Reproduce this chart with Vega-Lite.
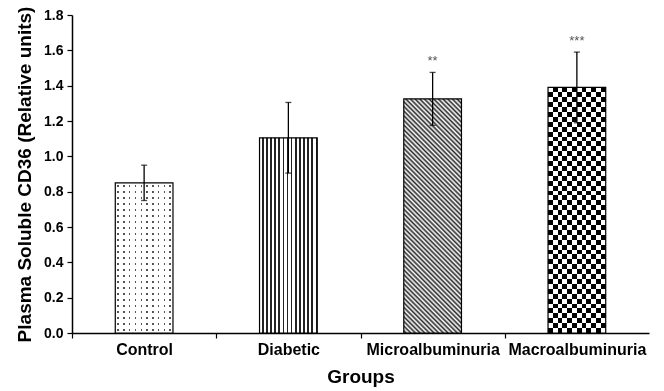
{
  "$schema": "https://vega.github.io/schema/vega-lite/v6.json",
  "autosize": "none",
  "padding": {"left": 72, "top": 15, "right": 15, "bottom": 58},
  "width": 577,
  "height": 318,
  "background": "white",
  "config": {
    "view": {"stroke": null},
    "font": "Liberation Sans",
    "axis": {
      "domainColor": "#000", "domainWidth": 1.5, "tickColor": "#000", "tickWidth": 1.2,
      "labelColor": "#000", "titleColor": "#000", "labelFont": "Liberation Sans", "titleFont": "Liberation Sans",
      "labelFontWeight": "bold", "titleFontWeight": "bold", "grid": false
    },
    "axisY": {"tickCount": 10, "labelFontSize": 14, "tickSize": 5, "labelPadding": 4, "titleFontSize": 19, "titlePadding": 9, "format": ".1f", "labelOverlap": false}
  },
  "data": {"values": [
    {"group": "Control", "mean": 0.85, "lo": 0.75, "hi": 0.95, "sig": ""},
    {"group": "Diabetic", "mean": 1.105, "lo": 0.905, "hi": 1.305, "sig": ""},
    {"group": "Microalbuminuria", "mean": 1.325, "lo": 1.175, "hi": 1.475, "sig": "**"},
    {"group": "Macroalbuminuria", "mean": 1.39, "lo": 1.19, "hi": 1.59, "sig": "***"}
  ]},
  "encoding": {
    "x": {"field": "group", "type": "nominal", "sort": null,
      "scale": {"paddingInner": 0.6, "paddingOuter": 0.3},
      "axis": {"title": "Groups", "labelAngle": 0, "tickOffset": -72.125, "labelOffset": 72.125, "tickSize": 5,
        "labelPadding": 3, "labelFontSize": 16, "titleFontSize": 19, "titlePadding": 10}}
  },
  "layer": [
    {
      "transform": [{"filter": "datum.group == 'Control'"}],
      "mark": {"type": "bar", "strokeWidth": 0, "fill": {"gradient": "linear", "x1": 0, "y1": 0, "x2": 0, "y2": 1, "stops": [
        {"offset": 0, "color": "#fff"},
        {"offset": 0.015, "color": "#fff"}, {"offset": 0.015, "color": "#555"}, {"offset": 0.025, "color": "#555"}, {"offset": 0.025, "color": "#fff"},
        {"offset": 0.055, "color": "#fff"}, {"offset": 0.055, "color": "#555"}, {"offset": 0.065, "color": "#555"}, {"offset": 0.065, "color": "#fff"},
        {"offset": 0.095, "color": "#fff"}, {"offset": 0.095, "color": "#555"}, {"offset": 0.105, "color": "#555"}, {"offset": 0.105, "color": "#fff"},
        {"offset": 0.135, "color": "#fff"}, {"offset": 0.135, "color": "#555"}, {"offset": 0.145, "color": "#555"}, {"offset": 0.145, "color": "#fff"},
        {"offset": 0.175, "color": "#fff"}, {"offset": 0.175, "color": "#555"}, {"offset": 0.185, "color": "#555"}, {"offset": 0.185, "color": "#fff"},
        {"offset": 0.215, "color": "#fff"}, {"offset": 0.215, "color": "#555"}, {"offset": 0.225, "color": "#555"}, {"offset": 0.225, "color": "#fff"},
        {"offset": 0.255, "color": "#fff"}, {"offset": 0.255, "color": "#555"}, {"offset": 0.265, "color": "#555"}, {"offset": 0.265, "color": "#fff"},
        {"offset": 0.295, "color": "#fff"}, {"offset": 0.295, "color": "#555"}, {"offset": 0.305, "color": "#555"}, {"offset": 0.305, "color": "#fff"},
        {"offset": 0.335, "color": "#fff"}, {"offset": 0.335, "color": "#555"}, {"offset": 0.345, "color": "#555"}, {"offset": 0.345, "color": "#fff"},
        {"offset": 0.375, "color": "#fff"}, {"offset": 0.375, "color": "#555"}, {"offset": 0.385, "color": "#555"}, {"offset": 0.385, "color": "#fff"},
        {"offset": 0.415, "color": "#fff"}, {"offset": 0.415, "color": "#555"}, {"offset": 0.425, "color": "#555"}, {"offset": 0.425, "color": "#fff"},
        {"offset": 0.455, "color": "#fff"}, {"offset": 0.455, "color": "#555"}, {"offset": 0.465, "color": "#555"}, {"offset": 0.465, "color": "#fff"},
        {"offset": 0.495, "color": "#fff"}, {"offset": 0.495, "color": "#555"}, {"offset": 0.505, "color": "#555"}, {"offset": 0.505, "color": "#fff"},
        {"offset": 0.535, "color": "#fff"}, {"offset": 0.535, "color": "#555"}, {"offset": 0.545, "color": "#555"}, {"offset": 0.545, "color": "#fff"},
        {"offset": 0.575, "color": "#fff"}, {"offset": 0.575, "color": "#555"}, {"offset": 0.585, "color": "#555"}, {"offset": 0.585, "color": "#fff"},
        {"offset": 0.615, "color": "#fff"}, {"offset": 0.615, "color": "#555"}, {"offset": 0.625, "color": "#555"}, {"offset": 0.625, "color": "#fff"},
        {"offset": 0.655, "color": "#fff"}, {"offset": 0.655, "color": "#555"}, {"offset": 0.665, "color": "#555"}, {"offset": 0.665, "color": "#fff"},
        {"offset": 0.695, "color": "#fff"}, {"offset": 0.695, "color": "#555"}, {"offset": 0.705, "color": "#555"}, {"offset": 0.705, "color": "#fff"},
        {"offset": 0.735, "color": "#fff"}, {"offset": 0.735, "color": "#555"}, {"offset": 0.745, "color": "#555"}, {"offset": 0.745, "color": "#fff"},
        {"offset": 0.775, "color": "#fff"}, {"offset": 0.775, "color": "#555"}, {"offset": 0.785, "color": "#555"}, {"offset": 0.785, "color": "#fff"},
        {"offset": 0.815, "color": "#fff"}, {"offset": 0.815, "color": "#555"}, {"offset": 0.825, "color": "#555"}, {"offset": 0.825, "color": "#fff"},
        {"offset": 0.855, "color": "#fff"}, {"offset": 0.855, "color": "#555"}, {"offset": 0.865, "color": "#555"}, {"offset": 0.865, "color": "#fff"},
        {"offset": 0.895, "color": "#fff"}, {"offset": 0.895, "color": "#555"}, {"offset": 0.905, "color": "#555"}, {"offset": 0.905, "color": "#fff"},
        {"offset": 0.935, "color": "#fff"}, {"offset": 0.935, "color": "#555"}, {"offset": 0.945, "color": "#555"}, {"offset": 0.945, "color": "#fff"},
        {"offset": 0.975, "color": "#fff"}, {"offset": 0.975, "color": "#555"}, {"offset": 0.985, "color": "#555"}, {"offset": 0.985, "color": "#fff"},
        {"offset": 1, "color": "#fff"}
      ]}},
      "encoding": {"y": {"field": "mean", "type": "quantitative", "title": "Plasma Soluble CD36 (Relative units)",
        "scale": {"domain": [0, 1.8], "nice": false},
        "axis": {"values": [0, 0.2, 0.4, 0.6, 0.8, 1.0, 1.2, 1.4, 1.6, 1.8], "format": ".1f", "labelOverlap": false}}}
    },
    {
      "transform": [{"filter": "datum.group == 'Control'"}],
      "mark": {"type": "bar", "strokeWidth": 0, "blend": "lighten", "fill": {"gradient": "linear", "x1": 0, "y1": 0, "x2": 1, "y2": 0, "stops": [
        {"offset": 0, "color": "#fff"},
        {"offset": 0.0375, "color": "#fff"}, {"offset": 0.0375, "color": "#555"}, {"offset": 0.0625, "color": "#555"}, {"offset": 0.0625, "color": "#fff"},
        {"offset": 0.1375, "color": "#fff"}, {"offset": 0.1375, "color": "#555"}, {"offset": 0.1625, "color": "#555"}, {"offset": 0.1625, "color": "#fff"},
        {"offset": 0.2375, "color": "#fff"}, {"offset": 0.2375, "color": "#555"}, {"offset": 0.2625, "color": "#555"}, {"offset": 0.2625, "color": "#fff"},
        {"offset": 0.3375, "color": "#fff"}, {"offset": 0.3375, "color": "#555"}, {"offset": 0.3625, "color": "#555"}, {"offset": 0.3625, "color": "#fff"},
        {"offset": 0.4375, "color": "#fff"}, {"offset": 0.4375, "color": "#555"}, {"offset": 0.4625, "color": "#555"}, {"offset": 0.4625, "color": "#fff"},
        {"offset": 0.5375, "color": "#fff"}, {"offset": 0.5375, "color": "#555"}, {"offset": 0.5625, "color": "#555"}, {"offset": 0.5625, "color": "#fff"},
        {"offset": 0.6375, "color": "#fff"}, {"offset": 0.6375, "color": "#555"}, {"offset": 0.6625, "color": "#555"}, {"offset": 0.6625, "color": "#fff"},
        {"offset": 0.7375, "color": "#fff"}, {"offset": 0.7375, "color": "#555"}, {"offset": 0.7625, "color": "#555"}, {"offset": 0.7625, "color": "#fff"},
        {"offset": 0.8375, "color": "#fff"}, {"offset": 0.8375, "color": "#555"}, {"offset": 0.8625, "color": "#555"}, {"offset": 0.8625, "color": "#fff"},
        {"offset": 0.9375, "color": "#fff"}, {"offset": 0.9375, "color": "#555"}, {"offset": 0.9625, "color": "#555"}, {"offset": 0.9625, "color": "#fff"},
        {"offset": 1, "color": "#fff"}
      ]}},
      "encoding": {"y": {"field": "mean", "type": "quantitative", "title": "Plasma Soluble CD36 (Relative units)",
        "axis": {"values": [0, 0.2, 0.4, 0.6, 0.8, 1.0, 1.2, 1.4, 1.6, 1.8], "format": ".1f", "labelOverlap": false}}}
    },
    {
      "transform": [{"filter": "datum.group == 'Diabetic'"}],
      "mark": {"type": "bar", "strokeWidth": 0, "fill": {"gradient": "linear", "x1": 0, "y1": 0, "x2": 1, "y2": 0, "stops": [
        {"offset": 0, "color": "#fff"}, {"offset": 0.0429, "color": "#fff"}, {"offset": 0.0429, "color": "#222"}, {"offset": 0.0714, "color": "#222"},
        {"offset": 0.0714, "color": "#fff"}, {"offset": 0.1143, "color": "#fff"}, {"offset": 0.1143, "color": "#222"}, {"offset": 0.1429, "color": "#222"},
        {"offset": 0.1429, "color": "#fff"}, {"offset": 0.1857, "color": "#fff"}, {"offset": 0.1857, "color": "#222"}, {"offset": 0.2143, "color": "#222"},
        {"offset": 0.2143, "color": "#fff"}, {"offset": 0.2571, "color": "#fff"}, {"offset": 0.2571, "color": "#222"}, {"offset": 0.2857, "color": "#222"},
        {"offset": 0.2857, "color": "#fff"}, {"offset": 0.3286, "color": "#fff"}, {"offset": 0.3286, "color": "#222"}, {"offset": 0.3571, "color": "#222"},
        {"offset": 0.3571, "color": "#fff"}, {"offset": 0.4, "color": "#fff"}, {"offset": 0.4, "color": "#222"}, {"offset": 0.4286, "color": "#222"},
        {"offset": 0.4286, "color": "#fff"}, {"offset": 0.4714, "color": "#fff"}, {"offset": 0.4714, "color": "#222"}, {"offset": 0.5, "color": "#222"},
        {"offset": 0.5, "color": "#fff"}, {"offset": 0.5429, "color": "#fff"}, {"offset": 0.5429, "color": "#222"}, {"offset": 0.5714, "color": "#222"},
        {"offset": 0.5714, "color": "#fff"}, {"offset": 0.6143, "color": "#fff"}, {"offset": 0.6143, "color": "#222"}, {"offset": 0.6429, "color": "#222"},
        {"offset": 0.6429, "color": "#fff"}, {"offset": 0.6857, "color": "#fff"}, {"offset": 0.6857, "color": "#222"}, {"offset": 0.7143, "color": "#222"},
        {"offset": 0.7143, "color": "#fff"}, {"offset": 0.7571, "color": "#fff"}, {"offset": 0.7571, "color": "#222"}, {"offset": 0.7857, "color": "#222"},
        {"offset": 0.7857, "color": "#fff"}, {"offset": 0.8286, "color": "#fff"}, {"offset": 0.8286, "color": "#222"}, {"offset": 0.8571, "color": "#222"},
        {"offset": 0.8571, "color": "#fff"}, {"offset": 0.9, "color": "#fff"}, {"offset": 0.9, "color": "#222"}, {"offset": 0.9286, "color": "#222"},
        {"offset": 0.9286, "color": "#fff"}, {"offset": 0.9714, "color": "#fff"}, {"offset": 0.9714, "color": "#222"}, {"offset": 1, "color": "#222"}
      ]}},
      "encoding": {"y": {"field": "mean", "type": "quantitative", "title": "Plasma Soluble CD36 (Relative units)",
        "axis": {"values": [0, 0.2, 0.4, 0.6, 0.8, 1.0, 1.2, 1.4, 1.6, 1.8], "format": ".1f", "labelOverlap": false}}}
    },
    {
      "transform": [{"filter": "datum.group == 'Microalbuminuria'"}],
      "mark": {"type": "bar", "strokeWidth": 0, "fill": {"gradient": "linear", "x1": 0, "y1": 1, "x2": 0.291, "y2": -0.176, "stops": [
        {"offset": 0, "color": "#fff"}, {"offset": 0.008, "color": "#2a2a2a"}, {"offset": 0.016, "color": "#fff"}, {"offset": 0.024, "color": "#2a2a2a"},
        {"offset": 0.032, "color": "#fff"}, {"offset": 0.04, "color": "#2a2a2a"}, {"offset": 0.048, "color": "#fff"}, {"offset": 0.056, "color": "#2a2a2a"},
        {"offset": 0.064, "color": "#fff"}, {"offset": 0.072, "color": "#2a2a2a"}, {"offset": 0.08, "color": "#fff"}, {"offset": 0.088, "color": "#2a2a2a"},
        {"offset": 0.096, "color": "#fff"}, {"offset": 0.104, "color": "#2a2a2a"}, {"offset": 0.112, "color": "#fff"}, {"offset": 0.12, "color": "#2a2a2a"},
        {"offset": 0.128, "color": "#fff"}, {"offset": 0.136, "color": "#2a2a2a"}, {"offset": 0.144, "color": "#fff"}, {"offset": 0.152, "color": "#2a2a2a"},
        {"offset": 0.16, "color": "#fff"}, {"offset": 0.168, "color": "#2a2a2a"}, {"offset": 0.176, "color": "#fff"}, {"offset": 0.184, "color": "#2a2a2a"},
        {"offset": 0.192, "color": "#fff"}, {"offset": 0.2, "color": "#2a2a2a"}, {"offset": 0.208, "color": "#fff"}, {"offset": 0.216, "color": "#2a2a2a"},
        {"offset": 0.224, "color": "#fff"}, {"offset": 0.232, "color": "#2a2a2a"}, {"offset": 0.24, "color": "#fff"}, {"offset": 0.248, "color": "#2a2a2a"},
        {"offset": 0.256, "color": "#fff"}, {"offset": 0.264, "color": "#2a2a2a"}, {"offset": 0.272, "color": "#fff"}, {"offset": 0.28, "color": "#2a2a2a"},
        {"offset": 0.288, "color": "#fff"}, {"offset": 0.296, "color": "#2a2a2a"}, {"offset": 0.304, "color": "#fff"}, {"offset": 0.312, "color": "#2a2a2a"},
        {"offset": 0.32, "color": "#fff"}, {"offset": 0.328, "color": "#2a2a2a"}, {"offset": 0.336, "color": "#fff"}, {"offset": 0.344, "color": "#2a2a2a"},
        {"offset": 0.352, "color": "#fff"}, {"offset": 0.36, "color": "#2a2a2a"}, {"offset": 0.368, "color": "#fff"}, {"offset": 0.376, "color": "#2a2a2a"},
        {"offset": 0.384, "color": "#fff"}, {"offset": 0.392, "color": "#2a2a2a"}, {"offset": 0.4, "color": "#fff"}, {"offset": 0.408, "color": "#2a2a2a"},
        {"offset": 0.416, "color": "#fff"}, {"offset": 0.424, "color": "#2a2a2a"}, {"offset": 0.432, "color": "#fff"}, {"offset": 0.44, "color": "#2a2a2a"},
        {"offset": 0.448, "color": "#fff"}, {"offset": 0.456, "color": "#2a2a2a"}, {"offset": 0.464, "color": "#fff"}, {"offset": 0.472, "color": "#2a2a2a"},
        {"offset": 0.48, "color": "#fff"}, {"offset": 0.488, "color": "#2a2a2a"}, {"offset": 0.496, "color": "#fff"}, {"offset": 0.504, "color": "#2a2a2a"},
        {"offset": 0.512, "color": "#fff"}, {"offset": 0.52, "color": "#2a2a2a"}, {"offset": 0.528, "color": "#fff"}, {"offset": 0.536, "color": "#2a2a2a"},
        {"offset": 0.544, "color": "#fff"}, {"offset": 0.552, "color": "#2a2a2a"}, {"offset": 0.56, "color": "#fff"}, {"offset": 0.568, "color": "#2a2a2a"},
        {"offset": 0.576, "color": "#fff"}, {"offset": 0.584, "color": "#2a2a2a"}, {"offset": 0.592, "color": "#fff"}, {"offset": 0.6, "color": "#2a2a2a"},
        {"offset": 0.608, "color": "#fff"}, {"offset": 0.616, "color": "#2a2a2a"}, {"offset": 0.624, "color": "#fff"}, {"offset": 0.632, "color": "#2a2a2a"},
        {"offset": 0.64, "color": "#fff"}, {"offset": 0.648, "color": "#2a2a2a"}, {"offset": 0.656, "color": "#fff"}, {"offset": 0.664, "color": "#2a2a2a"},
        {"offset": 0.672, "color": "#fff"}, {"offset": 0.68, "color": "#2a2a2a"}, {"offset": 0.688, "color": "#fff"}, {"offset": 0.696, "color": "#2a2a2a"},
        {"offset": 0.704, "color": "#fff"}, {"offset": 0.712, "color": "#2a2a2a"}, {"offset": 0.72, "color": "#fff"}, {"offset": 0.728, "color": "#2a2a2a"},
        {"offset": 0.736, "color": "#fff"}, {"offset": 0.744, "color": "#2a2a2a"}, {"offset": 0.752, "color": "#fff"}, {"offset": 0.76, "color": "#2a2a2a"},
        {"offset": 0.768, "color": "#fff"}, {"offset": 0.776, "color": "#2a2a2a"}, {"offset": 0.784, "color": "#fff"}, {"offset": 0.792, "color": "#2a2a2a"},
        {"offset": 0.8, "color": "#fff"}, {"offset": 0.808, "color": "#2a2a2a"}, {"offset": 0.816, "color": "#fff"}, {"offset": 0.824, "color": "#2a2a2a"},
        {"offset": 0.832, "color": "#fff"}, {"offset": 0.84, "color": "#2a2a2a"}, {"offset": 0.848, "color": "#fff"}, {"offset": 0.856, "color": "#2a2a2a"},
        {"offset": 0.864, "color": "#fff"}, {"offset": 0.872, "color": "#2a2a2a"}, {"offset": 0.88, "color": "#fff"}, {"offset": 0.888, "color": "#2a2a2a"},
        {"offset": 0.896, "color": "#fff"}, {"offset": 0.904, "color": "#2a2a2a"}, {"offset": 0.912, "color": "#fff"}, {"offset": 0.92, "color": "#2a2a2a"},
        {"offset": 0.928, "color": "#fff"}, {"offset": 0.936, "color": "#2a2a2a"}, {"offset": 0.944, "color": "#fff"}, {"offset": 0.952, "color": "#2a2a2a"},
        {"offset": 0.96, "color": "#fff"}, {"offset": 0.968, "color": "#2a2a2a"}, {"offset": 0.976, "color": "#fff"}, {"offset": 0.984, "color": "#2a2a2a"},
        {"offset": 0.992, "color": "#fff"}, {"offset": 1, "color": "#2a2a2a"}
      ]}},
      "encoding": {"y": {"field": "mean", "type": "quantitative", "title": "Plasma Soluble CD36 (Relative units)",
        "axis": {"values": [0, 0.2, 0.4, 0.6, 0.8, 1.0, 1.2, 1.4, 1.6, 1.8], "format": ".1f", "labelOverlap": false}}}
    },
    {
      "transform": [{"filter": "datum.group == 'Macroalbuminuria'"}],
      "mark": {"type": "bar", "strokeWidth": 0, "fill": {"gradient": "linear", "x1": 0, "y1": 0, "x2": 0, "y2": 1, "stops": [
        {"offset": 0, "color": "#000"}, {"offset": 0.02, "color": "#000"}, {"offset": 0.02, "color": "#fff"}, {"offset": 0.04, "color": "#fff"},
        {"offset": 0.04, "color": "#000"}, {"offset": 0.06, "color": "#000"}, {"offset": 0.06, "color": "#fff"}, {"offset": 0.08, "color": "#fff"},
        {"offset": 0.08, "color": "#000"}, {"offset": 0.1, "color": "#000"}, {"offset": 0.1, "color": "#fff"}, {"offset": 0.12, "color": "#fff"},
        {"offset": 0.12, "color": "#000"}, {"offset": 0.14, "color": "#000"}, {"offset": 0.14, "color": "#fff"}, {"offset": 0.16, "color": "#fff"},
        {"offset": 0.16, "color": "#000"}, {"offset": 0.18, "color": "#000"}, {"offset": 0.18, "color": "#fff"}, {"offset": 0.2, "color": "#fff"},
        {"offset": 0.2, "color": "#000"}, {"offset": 0.22, "color": "#000"}, {"offset": 0.22, "color": "#fff"}, {"offset": 0.24, "color": "#fff"},
        {"offset": 0.24, "color": "#000"}, {"offset": 0.26, "color": "#000"}, {"offset": 0.26, "color": "#fff"}, {"offset": 0.28, "color": "#fff"},
        {"offset": 0.28, "color": "#000"}, {"offset": 0.3, "color": "#000"}, {"offset": 0.3, "color": "#fff"}, {"offset": 0.32, "color": "#fff"},
        {"offset": 0.32, "color": "#000"}, {"offset": 0.34, "color": "#000"}, {"offset": 0.34, "color": "#fff"}, {"offset": 0.36, "color": "#fff"},
        {"offset": 0.36, "color": "#000"}, {"offset": 0.38, "color": "#000"}, {"offset": 0.38, "color": "#fff"}, {"offset": 0.4, "color": "#fff"},
        {"offset": 0.4, "color": "#000"}, {"offset": 0.42, "color": "#000"}, {"offset": 0.42, "color": "#fff"}, {"offset": 0.44, "color": "#fff"},
        {"offset": 0.44, "color": "#000"}, {"offset": 0.46, "color": "#000"}, {"offset": 0.46, "color": "#fff"}, {"offset": 0.48, "color": "#fff"},
        {"offset": 0.48, "color": "#000"}, {"offset": 0.5, "color": "#000"}, {"offset": 0.5, "color": "#fff"}, {"offset": 0.52, "color": "#fff"},
        {"offset": 0.52, "color": "#000"}, {"offset": 0.54, "color": "#000"}, {"offset": 0.54, "color": "#fff"}, {"offset": 0.56, "color": "#fff"},
        {"offset": 0.56, "color": "#000"}, {"offset": 0.58, "color": "#000"}, {"offset": 0.58, "color": "#fff"}, {"offset": 0.6, "color": "#fff"},
        {"offset": 0.6, "color": "#000"}, {"offset": 0.62, "color": "#000"}, {"offset": 0.62, "color": "#fff"}, {"offset": 0.64, "color": "#fff"},
        {"offset": 0.64, "color": "#000"}, {"offset": 0.66, "color": "#000"}, {"offset": 0.66, "color": "#fff"}, {"offset": 0.68, "color": "#fff"},
        {"offset": 0.68, "color": "#000"}, {"offset": 0.7, "color": "#000"}, {"offset": 0.7, "color": "#fff"}, {"offset": 0.72, "color": "#fff"},
        {"offset": 0.72, "color": "#000"}, {"offset": 0.74, "color": "#000"}, {"offset": 0.74, "color": "#fff"}, {"offset": 0.76, "color": "#fff"},
        {"offset": 0.76, "color": "#000"}, {"offset": 0.78, "color": "#000"}, {"offset": 0.78, "color": "#fff"}, {"offset": 0.8, "color": "#fff"},
        {"offset": 0.8, "color": "#000"}, {"offset": 0.82, "color": "#000"}, {"offset": 0.82, "color": "#fff"}, {"offset": 0.84, "color": "#fff"},
        {"offset": 0.84, "color": "#000"}, {"offset": 0.86, "color": "#000"}, {"offset": 0.86, "color": "#fff"}, {"offset": 0.88, "color": "#fff"},
        {"offset": 0.88, "color": "#000"}, {"offset": 0.9, "color": "#000"}, {"offset": 0.9, "color": "#fff"}, {"offset": 0.92, "color": "#fff"},
        {"offset": 0.92, "color": "#000"}, {"offset": 0.94, "color": "#000"}, {"offset": 0.94, "color": "#fff"}, {"offset": 0.96, "color": "#fff"},
        {"offset": 0.96, "color": "#000"}, {"offset": 0.98, "color": "#000"}, {"offset": 0.98, "color": "#fff"}, {"offset": 1, "color": "#fff"}
      ]}},
      "encoding": {"y": {"field": "mean", "type": "quantitative", "title": "Plasma Soluble CD36 (Relative units)",
        "axis": {"values": [0, 0.2, 0.4, 0.6, 0.8, 1.0, 1.2, 1.4, 1.6, 1.8], "format": ".1f", "labelOverlap": false}}}
    },
    {
      "transform": [{"filter": "datum.group == 'Macroalbuminuria'"}],
      "mark": {"type": "bar", "strokeWidth": 0, "blend": "difference", "fill": {"gradient": "linear", "x1": 0, "y1": 0, "x2": 1, "y2": 0, "stops": [
        {"offset": 0, "color": "#fff"}, {"offset": 0.0833, "color": "#fff"}, {"offset": 0.0833, "color": "#000"}, {"offset": 0.1667, "color": "#000"},
        {"offset": 0.1667, "color": "#fff"}, {"offset": 0.25, "color": "#fff"}, {"offset": 0.25, "color": "#000"}, {"offset": 0.3333, "color": "#000"},
        {"offset": 0.3333, "color": "#fff"}, {"offset": 0.4167, "color": "#fff"}, {"offset": 0.4167, "color": "#000"}, {"offset": 0.5, "color": "#000"},
        {"offset": 0.5, "color": "#fff"}, {"offset": 0.5833, "color": "#fff"}, {"offset": 0.5833, "color": "#000"}, {"offset": 0.6667, "color": "#000"},
        {"offset": 0.6667, "color": "#fff"}, {"offset": 0.75, "color": "#fff"}, {"offset": 0.75, "color": "#000"}, {"offset": 0.8333, "color": "#000"},
        {"offset": 0.8333, "color": "#fff"}, {"offset": 0.9167, "color": "#fff"}, {"offset": 0.9167, "color": "#000"}, {"offset": 1, "color": "#000"}
      ]}},
      "encoding": {"y": {"field": "mean", "type": "quantitative", "title": "Plasma Soluble CD36 (Relative units)",
        "axis": {"values": [0, 0.2, 0.4, 0.6, 0.8, 1.0, 1.2, 1.4, 1.6, 1.8], "format": ".1f", "labelOverlap": false}}}
    },
    {
      "mark": {"type": "bar", "fill": "#fff", "fillOpacity": 0, "stroke": "#000", "strokeWidth": 1.2},
      "encoding": {"y": {"field": "mean", "type": "quantitative", "title": "Plasma Soluble CD36 (Relative units)",
        "axis": {"values": [0, 0.2, 0.4, 0.6, 0.8, 1.0, 1.2, 1.4, 1.6, 1.8], "format": ".1f", "labelOverlap": false}}}
    },
    {
      "mark": {"type": "rule", "color": "#000", "strokeWidth": 1.3},
      "encoding": {"y": {"field": "lo", "type": "quantitative", "title": "Plasma Soluble CD36 (Relative units)",
        "axis": {"values": [0, 0.2, 0.4, 0.6, 0.8, 1.0, 1.2, 1.4, 1.6, 1.8], "format": ".1f", "labelOverlap": false}}, "y2": {"field": "hi"}}
    },
    {
      "mark": {"type": "tick", "color": "#000", "thickness": 1.3, "size": 6},
      "encoding": {"y": {"field": "hi", "type": "quantitative", "title": "Plasma Soluble CD36 (Relative units)",
        "axis": {"values": [0, 0.2, 0.4, 0.6, 0.8, 1.0, 1.2, 1.4, 1.6, 1.8], "format": ".1f", "labelOverlap": false}}}
    },
    {
      "mark": {"type": "tick", "color": "#000", "thickness": 1.3, "size": 6},
      "encoding": {"y": {"field": "lo", "type": "quantitative", "title": "Plasma Soluble CD36 (Relative units)",
        "axis": {"values": [0, 0.2, 0.4, 0.6, 0.8, 1.0, 1.2, 1.4, 1.6, 1.8], "format": ".1f", "labelOverlap": false}}}
    },
    {
      "mark": {"type": "text", "fontSize": 13, "dy": -7, "baseline": "alphabetic", "color": "#555", "font": "Liberation Sans"},
      "encoding": {"y": {"field": "hi", "type": "quantitative", "title": "Plasma Soluble CD36 (Relative units)",
        "axis": {"values": [0, 0.2, 0.4, 0.6, 0.8, 1.0, 1.2, 1.4, 1.6, 1.8], "format": ".1f", "labelOverlap": false}}, "text": {"field": "sig"}}
    }
  ]
}
